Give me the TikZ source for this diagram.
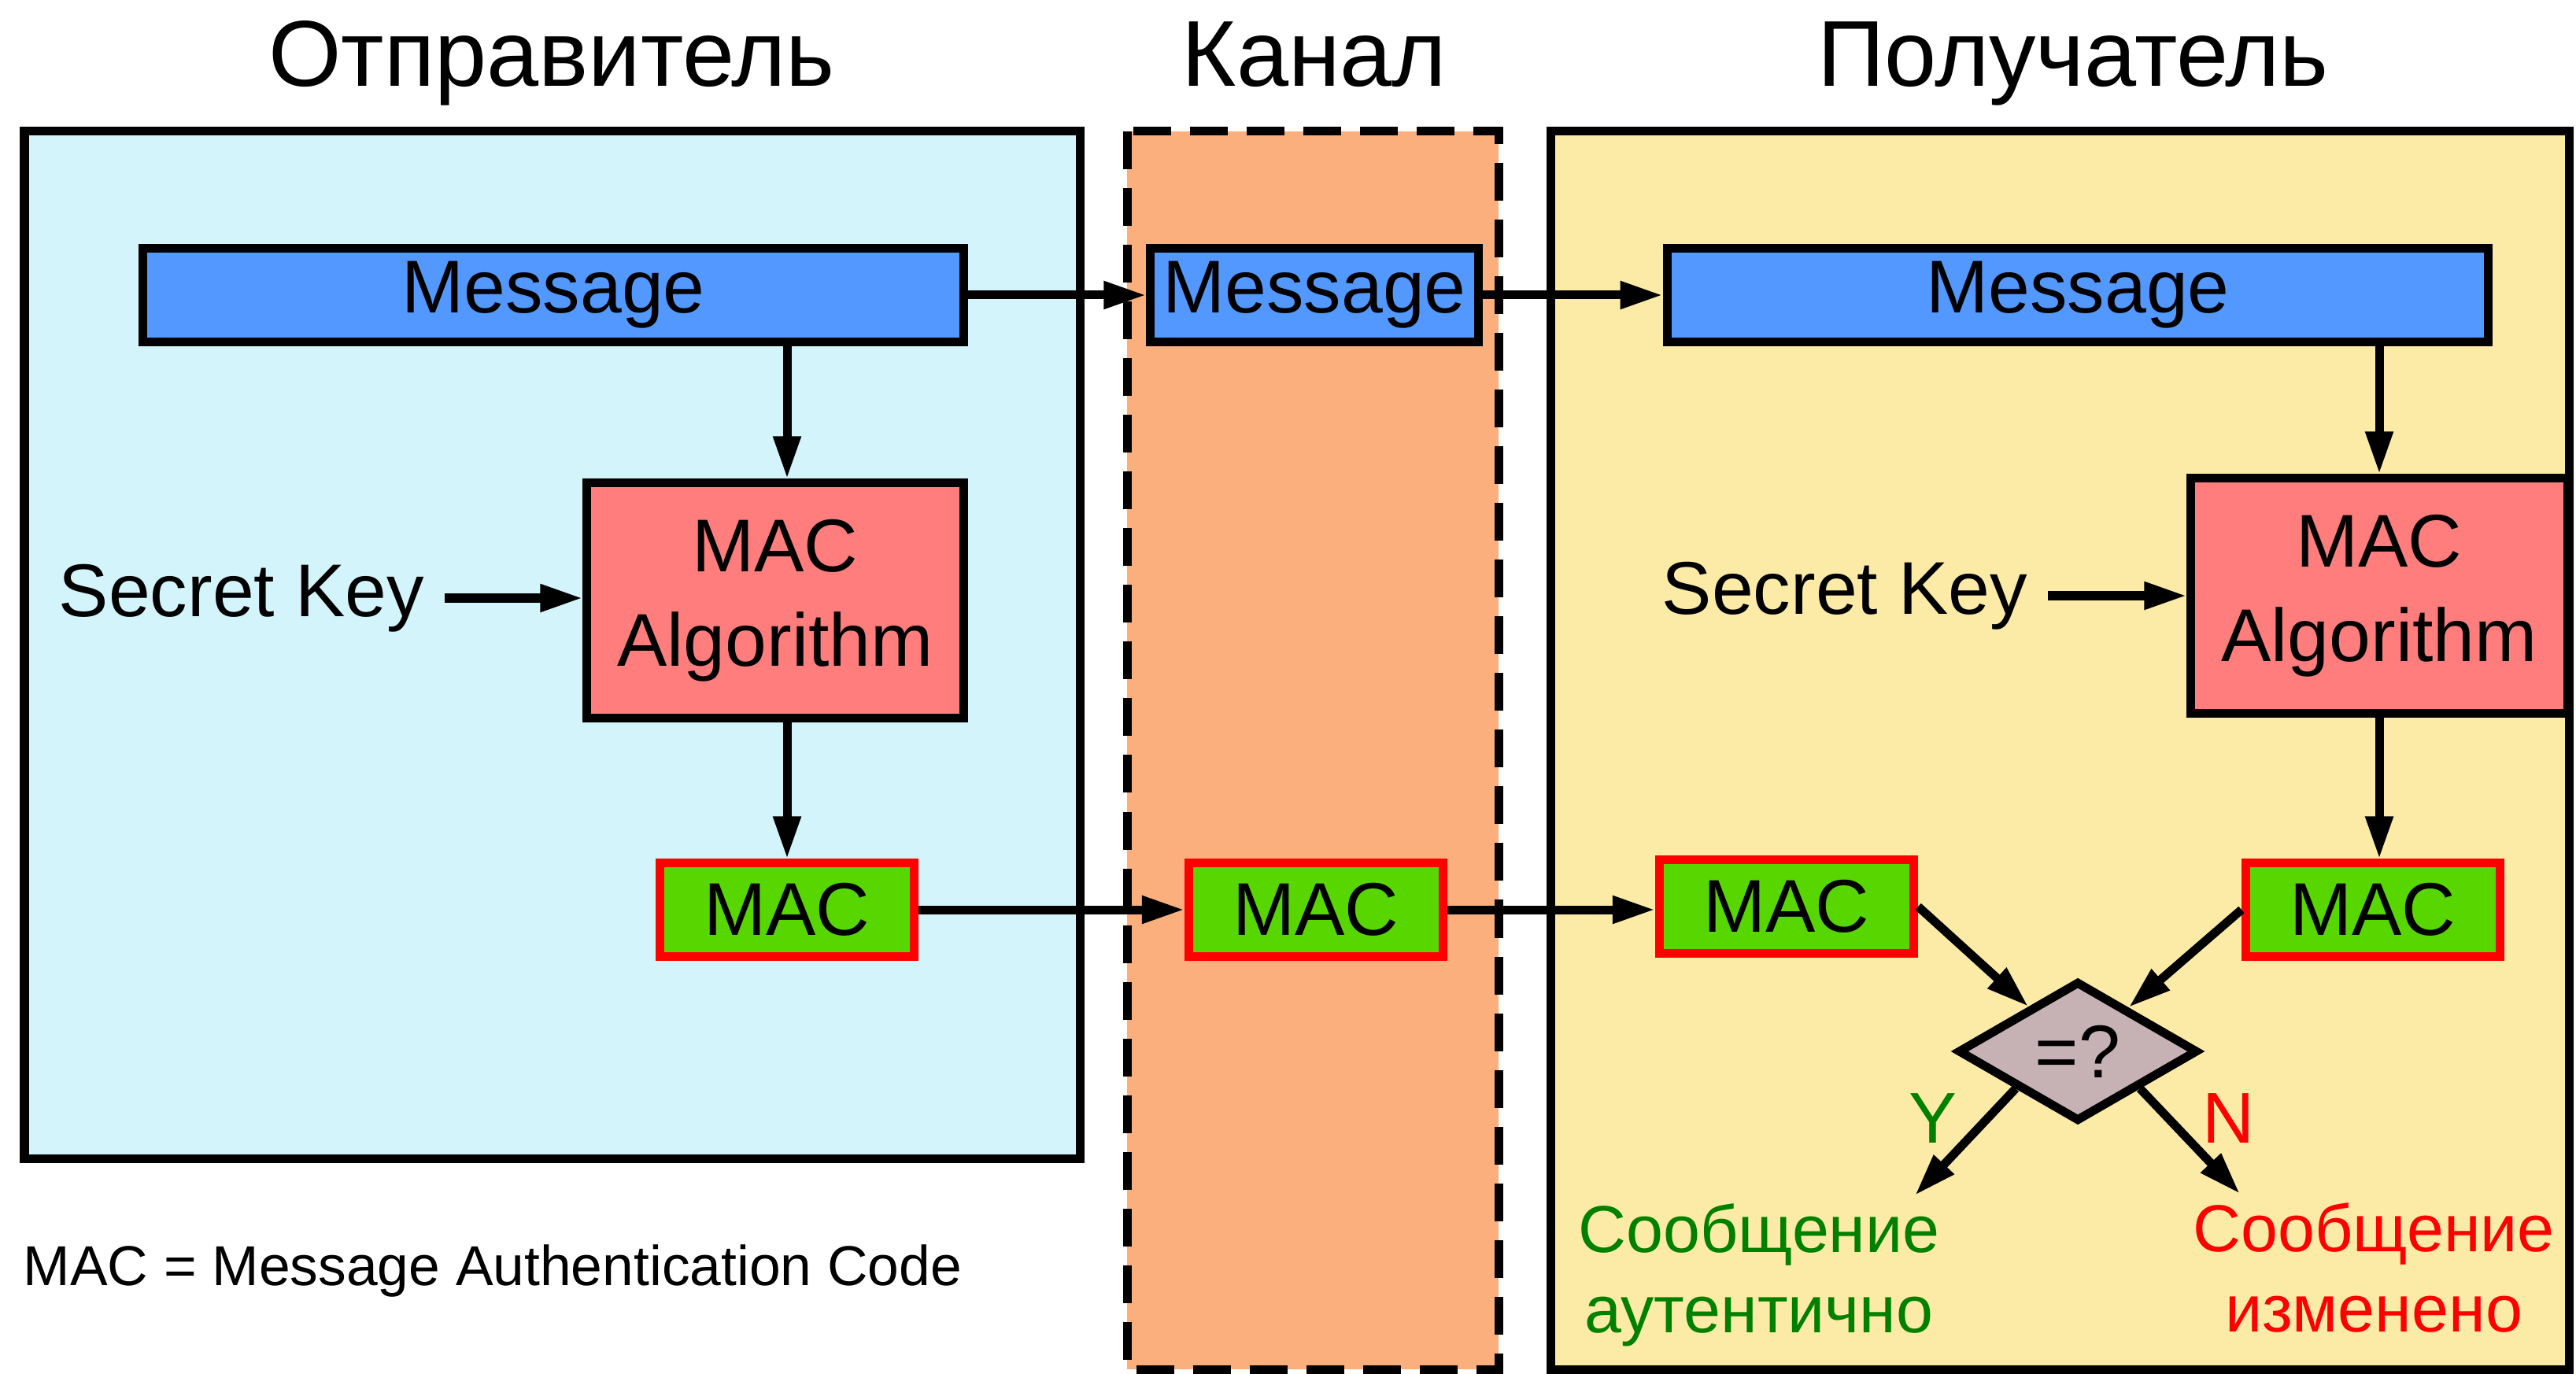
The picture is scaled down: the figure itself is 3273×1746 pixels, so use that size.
\documentclass[tikz,border=0pt]{standalone}
\usepackage{fontspec}
\setmainfont{Liberation Sans}
\usetikzlibrary{arrows.meta,shapes.geometric}

\definecolor{senderbg}{RGB}{210,244,250}
\definecolor{channelbg}{RGB}{250,175,125}
\definecolor{receiverbg}{RGB}{252,235,166}
\definecolor{msgblue}{RGB}{82,152,255}
\definecolor{algred}{RGB}{255,125,125}
\definecolor{macgreen}{RGB}{88,214,0}
\definecolor{cmpgray}{RGB}{198,178,180}
\definecolor{okgreen}{RGB}{0,128,0}

\tikzset{
	thick line/.style={line width=0.11cm},
	box/.style={draw, thick line, inner sep=0pt, align=center, font=\fontsize{27}{34}\selectfont},
	msgbox/.style={box, fill=msgblue, minimum height=1.18cm},
	algbox/.style={box, fill=algred, minimum width=4.78cm, minimum height=2.98cm},
	macbox/.style={box, draw=red, fill=macgreen, minimum width=3.23cm, minimum height=1.18cm},
	flow/.style={thick line, -{Triangle[length=0.54cm,width=0.33cm]}},
	title/.style={anchor=base, inner sep=0pt, font=\fontsize{33.8}{40}\selectfont},
	keytext/.style={inner sep=0.25cm, font=\fontsize{27}{34}\selectfont},
	outcome/.style={align=center, inner sep=0pt, font=\fontsize{24}{29}\selectfont},
}

\begin{document}
\begin{tikzpicture}[x=0.01cm, y=-0.01cm]
	\useasboundingbox (0,0) rectangle (3273,1746);
	% regions
	\draw[thick line, fill=senderbg] (31,167) rectangle (1372,1472);
	\draw[thick line, fill=channelbg, dash pattern=on 0.48cm off 0.24cm] (1432,167) rectangle (1904,1740);
	\draw[thick line, fill=receiverbg] (1970,167) rectangle (3264,1740);
	\node[title] (tSend) at (701,110) {Отправитель};
	\node[title] (tChan) at (1670,110) {Канал};
	\node[title] (tRecv) at (2634,110) {Получатель};

	% sender
	\node[msgbox, minimum width=10.43cm] (msgS) at (703,375) {Message};
	\node[algbox] (algS) at (985,763) {MAC\\Algorithm};
	\node[keytext] (keyS) at (307,760) {Secret Key};
	\node[macbox] (macS) at (1000,1156) {MAC};
	\draw[flow] (macS |- msgS.south) -- (macS |- algS.north);
	\draw[flow] (keyS.east) -- (algS.west |- keyS.east);
	\draw[flow] (macS |- algS.south) -- (macS.north);

	% channel
	\node[msgbox, minimum width=4.16cm] (msgC) at (1670,375) {Message};
	\node[macbox] (macC) at (1672,1156) {MAC};
	\draw[flow] (msgS.east) -- (msgC.west);
	\draw[flow] (macS.east) -- (macC.west);

	% receiver
	\node[msgbox, minimum width=10.43cm] (msgR) at (2640,375) {Message};
	\node[algbox] (algR) at (3023,757) {MAC\\Algorithm};
	\node[keytext] (keyR) at (2344,757) {Secret Key};
	\node[macbox] (macL) at (2270,1152) {MAC};
	\node[macbox] (macR) at (3015,1156) {MAC};
	\node[diamond, draw, thick line, fill=cmpgray, aspect=1.7, minimum width=3.05cm, minimum height=1.78cm,
		inner sep=0pt, font=\fontsize{27}{34}\selectfont] (cmp) at (2640,1336) {=?};
	\draw[flow] (msgC.east) -- (msgR.west);
	\draw[flow] (macC.east) -- (macC.east -| macL.west);
	\draw[flow] (algR |- msgR.south) -- (algR.north);
	\draw[flow] (keyR.east) -- (algR.west |- keyR.east);
	\draw[flow] (algR.south) -- (algR.south |- macR.north);
	\draw[flow] (macL.east) -- (cmp);
	\draw[flow] (macR.west) -- (cmp);

	% verdict
	\coordinate (yEnd) at (2433,1519);
	\coordinate (nEnd) at (2846,1517);
	\draw[flow] (cmp.south west) -- (yEnd);
	\draw[flow] (cmp.south east) -- (nEnd);
	\node[text=okgreen, font=\fontsize{26}{30}\selectfont] (yLab) at (2456,1421) {Y};
	\node[text=red, font=\fontsize{26}{30}\selectfont] (nLab) at (2831,1421) {N};
	\node[outcome, text=okgreen] (okMsg) at (2235,1620) {Сообщение\\аутентично};
	\node[outcome, text=red] (badMsg) at (3016,1611) {Сообщение\\изменено};

	\node[anchor=base west, inner sep=0pt, font=\fontsize{20.3}{24}\selectfont] (note) at (29,1633) {MAC = Message Authentication Code};
\end{tikzpicture}
\end{document}
